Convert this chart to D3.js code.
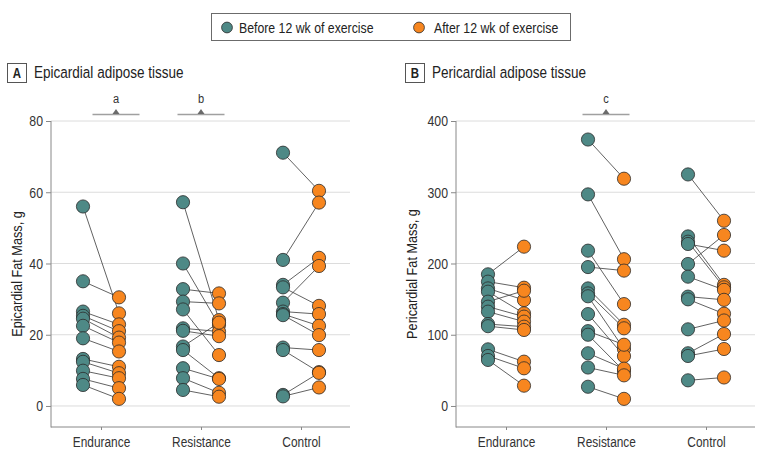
<!DOCTYPE html>
<html>
<head>
<meta charset="utf-8">
<script src="https://cdn.jsdelivr.net/npm/d3@7/dist/d3.min.js"></script>
<style>
  html, body { margin: 0; padding: 0; background: #fff; }
  svg { display: block; font-family: "Liberation Sans", Arial, sans-serif; }
</style>
</head>
<body>
<svg id="chart" width="780" height="459"></svg>
<script>
// ---------------- DATA ----------------
const categories = ["Endurance", "Resistance", "Control"];
const seriesNames = ["Before 12 wk of exercise", "After 12 wk of exercise"];

// Panel A: Epicardial fat mass, g (paired: before[i] -> after[i])
const epiEnduranceBefore  = [56.0, 35.0, 26.5, 25.3, 24.5, 22.5, 19.0, 13.2, 12.4, 9.9, 7.6, 5.9];
const epiEnduranceAfter   = [26.0, 30.5, 22.9, 21.0, 19.2, 17.8, 15.3, 11.0, 9.2, 7.8, 5.0, 2.0];
const epiResistanceBefore = [57.2, 40.0, 32.8, 29.3, 27.1, 21.8, 21.1, 16.7, 15.7, 10.6, 7.8, 4.5];
const epiResistanceAfter  = [24.1, 22.7, 31.6, 28.8, 14.3, 20.9, 19.6, 23.4, 7.8, 7.6, 3.7, 2.6];
const epiControlBefore    = [71.1, 41.0, 34.0, 33.3, 29.0, 26.5, 25.8, 25.5, 16.4, 15.7, 3.1, 2.7];
const epiControlAfter     = [60.4, 57.1, 41.6, 28.1, 39.3, 25.8, 22.5, 19.9, 15.7, 9.5, 9.3, 5.2];

// Panel B: Pericardial fat mass, g
const periEnduranceBefore  = [184.8, 174.5, 165, 160.4, 146.4, 139.4, 132.4, 115, 112, 79.5, 70.2, 64.6];
const periEnduranceAfter   = [223.6, 166, 148.7, 130, 161.8, 125.4, 118.4, 111.3, 106.7, 62.2, 52.9, 28.5];
const periResistanceBefore = [374, 297, 218, 195, 165, 158, 154, 129, 105, 100, 74, 54, 27];
const periResistanceAfter  = [319, 206, 143, 190, 114, 109, 80, 70, 86, 49, 52.4, 43, 10];
const periControlBefore    = [325, 238, 230.6, 227.4, 199.3, 181.5, 153.5, 149.7, 107.6, 74, 70.2, 36];
const periControlAfter     = [260, 170, 166.5, 218, 240, 163, 149, 129.5, 120, 101, 80, 40];

const epiTicks  = [0, 20, 40, 60, 80];
const periTicks = [0, 100, 200, 300, 400];

const epiMarkers  = [{category: "Endurance", label: "a"}, {category: "Resistance", label: "b"}];
const periMarkers = [{category: "Resistance", label: "c"}];

// ---------------- STYLE ----------------
const TEAL = "#4e8986", ORANGE = "#f7861f";
const K = 0.82; // horizontal condensing of text (narrow face)
const svg = d3.select("#chart");

function txt(parent, x, y, str, size, anchor, rotate) {
  const t = parent.append("text")
    .attr("transform", `translate(${x},${y})${rotate ? " rotate(-90)" : ""} scale(${K},1)`)
    .attr("dy", "0.35em").attr("font-size", size).attr("fill", "#222")
    .attr("text-anchor", anchor || "start").text(str);
  return t;
}

// ---------------- LEGEND ----------------
const legend = svg.append("g");
legend.append("rect").attr("x", 211.5).attr("y", 13.5).attr("width", 359).attr("height", 27)
  .attr("fill", "#fff").attr("stroke", "#6b6b6b").attr("stroke-width", 1);
[[227, TEAL, 239], [419, ORANGE, 434]].forEach((d, i) => {
  legend.append("circle").attr("cx", d[0]).attr("cy", 27.5).attr("r", 5.4)
    .attr("fill", d[1]).attr("stroke", "#2b2b2b").attr("stroke-width", 0.8);
  txt(legend, d[2], 27.5, seriesNames[i], 15);
});

// ---------------- PANELS ----------------
function drawPanel(opt) {
  const g = svg.append("g");
  const x = d3.scalePoint().domain(categories).range(opt.xRange).padding(0.5);
  const y = d3.scaleLinear().domain(opt.yDomain).range([427, 121]);
  const x0 = opt.xRange[0], x1 = opt.xRange[1] - 1;

  // title
  g.append("rect").attr("x", opt.boxX + 0.5).attr("y", 63.5).attr("width", 19).attr("height", 19)
    .attr("fill", "#fff").attr("stroke", "#555").attr("stroke-width", 1);
  txt(g, opt.boxX + 10, 73.5, opt.letter, 14, "middle").attr("font-weight", "bold");
  txt(g, opt.boxX + 27, 72.5, opt.title, 16.5);

  // grid
  g.append("g").selectAll("line").data(opt.ticks).join("line")
    .attr("x1", x0).attr("x2", x1).attr("y1", d => y(d)).attr("y2", d => y(d))
    .attr("stroke", "#dcdcdc").attr("stroke-width", 1);

  // y axis
  const yAxis = g.append("g").attr("transform", `translate(${x0},0)`)
    .call(d3.axisLeft(y).tickValues(opt.ticks).tickSize(5).tickSizeOuter(0));
  yAxis.select(".domain").remove();
  yAxis.selectAll(".tick line").attr("stroke", "#888");
  yAxis.selectAll(".tick text").attr("font-size", 15).attr("fill", "#333")
    .attr("font-family", null).attr("x", -8 / K).attr("transform", `scale(${K},1)`);
  g.append("line").attr("x1", x0).attr("x2", x0).attr("y1", y(opt.ticks[opt.ticks.length - 1])).attr("y2", 427.5)
    .attr("stroke", "#888").attr("stroke-width", 1);

  // x axis
  const xAxis = g.append("g").attr("transform", "translate(0,427)")
    .call(d3.axisBottom(x).tickSize(3).tickPadding(7).tickSizeOuter(0));
  xAxis.select(".domain").remove();
  xAxis.selectAll(".tick line").attr("stroke", "#888");
  xAxis.selectAll(".tick text").attr("font-size", 14.5).attr("fill", "#333")
    .attr("font-family", null).attr("transform", `scale(${K},1)`);
  g.append("line").attr("x1", x0).attr("x2", x1).attr("y1", 427).attr("y2", 427)
    .attr("stroke", "#888").attr("stroke-width", 1);

  // y title
  txt(g, opt.yTitleX, 274, opt.yTitle, 15.5, "middle", true);

  // significance markers
  opt.markers.forEach(m => {
    const cx = x(m.category) + (m.category === "Endurance" ? 15 : 0);
    g.append("line").attr("x1", cx - 23.5).attr("x2", cx + 23.5).attr("y1", 114.5).attr("y2", 114.5)
      .attr("stroke", "#a0a0a0").attr("stroke-width", 1.5);
    g.append("path").attr("d", `M${cx - 3.5},114 L${cx + 3.5},114 L${cx},109 Z`).attr("fill", "#6a6a6a");
    txt(g, cx, 98, m.label, 13.5, "middle").attr("fill", "#333");
  });

  // pairs
  const off = 18;
  opt.groups.forEach((grp, gi) => {
    const cat = categories[gi];
    const pairs = grp[0].map((b, i) => ({b, a: grp[1][i]}));
    g.append("g").selectAll("line").data(pairs).join("line")
      .attr("x1", x(cat) - off).attr("x2", x(cat) + off)
      .attr("y1", d => y(d.b)).attr("y2", d => y(d.a))
      .attr("stroke", "#3a3a3a").attr("stroke-width", 0.8);
  });
  opt.groups.forEach((grp, gi) => {
    const cat = categories[gi];
    g.append("g").selectAll("circle").data(grp[0]).join("circle")
      .attr("cx", x(cat) - off).attr("cy", d => y(d)).attr("r", 6.6)
      .attr("fill", TEAL).attr("stroke", "#2b2b2b").attr("stroke-width", 0.8);
    g.append("g").selectAll("circle").data(grp[1]).join("circle")
      .attr("cx", x(cat) + off).attr("cy", d => y(d)).attr("r", 6.6)
      .attr("fill", ORANGE).attr("stroke", "#2b2b2b").attr("stroke-width", 0.8);
  });
}

drawPanel({
  letter: "A", title: "Epicardial adipose tissue", boxX: 7,
  xRange: [51, 351], yDomain: [-5.9, 80], ticks: epiTicks,
  yTitle: "Epicardial Fat Mass, g", yTitleX: 17,
  markers: epiMarkers,
  groups: [[epiEnduranceBefore, epiEnduranceAfter], [epiResistanceBefore, epiResistanceAfter], [epiControlBefore, epiControlAfter]]
});
drawPanel({
  letter: "B", title: "Pericardial adipose tissue", boxX: 405,
  xRange: [456, 756], yDomain: [-29.5, 400], ticks: periTicks,
  yTitle: "Pericardial Fat Mass, g", yTitleX: 412,
  markers: periMarkers,
  groups: [[periEnduranceBefore, periEnduranceAfter], [periResistanceBefore, periResistanceAfter], [periControlBefore, periControlAfter]]
});
</script>
</body>
</html>
